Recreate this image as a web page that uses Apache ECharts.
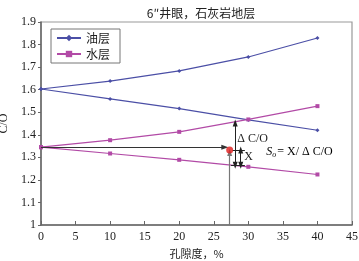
<!DOCTYPE html>
<html>
<head>
<meta charset="utf-8">
<script src="https://cdn.jsdelivr.net/npm/echarts@6/dist/echarts.min.js"></script>
<style>
  html, body { margin: 0; padding: 0; background: #fff; }
  #chart { width: 359px; height: 261px; }
</style>
</head>
<body>
<div id="chart"></div>
<script>
// data
var porosity = [0, 10, 20, 30, 40];
var oilUpper = [1.603, 1.638, 1.683, 1.745, 1.829];
var oilLower = [1.603, 1.559, 1.516, 1.466, 1.420];
var waterUpper = [1.345, 1.376, 1.413, 1.468, 1.527];
var waterLower = [1.345, 1.317, 1.289, 1.258, 1.224];
var measured = [27.3, 1.333];          // red point
var baseLevel = 1.345;                 // horizontal read-off line
var deltaArrow = [28.1, 1.265, 1.452]; // x, bottom, top
var xArrow = [28.9, 1.265, 1.333];

function pairs(xs, ys) {
    return xs.map(function (x, i) { return [x, ys[i]]; });
}

var serif = '"Liberation Serif", "Noto Sans CJK SC", serif';
var blue = '#4b4fa6';
var pink = '#b24aa6';

var myChart = echarts.init(document.getElementById('chart'));

function lineSeries(name, data, color, symbol, size) {
    return {
        name: name,
        type: 'line',
        data: data,
        symbol: symbol,
        symbolSize: size,
        lineStyle: { color: color, width: 1.2 },
        itemStyle: { color: color },
        animation: false
    };
}

var option = {
    animation: false,
    title: {
        text: '6″井眼，石灰岩地层',
        left: 196,
        textAlign: 'center',
        top: 2,
        textStyle: { fontFamily: '"Noto Sans CJK SC"', fontSize: 12, fontWeight: 'normal', color: '#222' }
    },
    legend: {
        data: ['油层', '水层'],
        orient: 'vertical',
        left: 51,
        top: 29,
        itemWidth: 24,
        itemHeight: 8,
        itemGap: 4,
        padding: [3, 10, 3, 5],
        borderColor: '#777',
        borderWidth: 1,
        textStyle: { fontFamily: '"Noto Sans CJK SC"', fontSize: 12, color: '#222' }
    },
    grid: {
        left: 41, right: 7, top: 22, bottom: 36,
        outerBoundsMode: 'none',
        containLabel: false,
        show: true,
        borderColor: '#999',
        borderWidth: 1.2
    },
    xAxis: {
        type: 'value',
        min: 0, max: 45, interval: 5,
        name: '孔隙度，%',
        nameLocation: 'middle',
        nameGap: 20,
        nameTextStyle: { fontFamily: '"Noto Sans CJK SC"', fontSize: 11, color: '#222' },
        axisLine: { lineStyle: { color: '#666', width: 1.5 } },
        axisTick: { inside: true, length: 4, lineStyle: { color: '#666' } },
        axisLabel: { fontFamily: serif, fontSize: 12, color: '#222', margin: 6 },
        splitLine: { show: false }
    },
    yAxis: {
        type: 'value',
        min: 1, max: 1.9, interval: 0.1,
        name: 'C/O',
        nameLocation: 'middle',
        nameGap: 30,
        nameTextStyle: { fontFamily: serif, fontSize: 12, color: '#222' },
        axisLine: { show: true, lineStyle: { color: '#666', width: 1.5 } },
        axisTick: { show: true, length: 3, lineStyle: { color: '#666' } },
        axisLabel: {
            fontFamily: serif, fontSize: 12, color: '#222', margin: 5,
            formatter: function (v) { return String(Math.round(v * 10) / 10); }
        },
        splitLine: { show: false }
    },
    series: [
        lineSeries('油层', pairs(porosity, oilUpper), blue, 'diamond', 4),
        lineSeries('油层', pairs(porosity, oilLower), blue, 'diamond', 4),
        lineSeries('水层', pairs(porosity, waterUpper), pink, 'rect', 4),
        lineSeries('水层', pairs(porosity, waterLower), pink, 'rect', 4),
        {
            name: 'annot',
            type: 'scatter',
            data: [measured],
            symbol: 'circle',
            symbolSize: 7,
            itemStyle: { color: '#e01b1b' },
            z: 5,
            markLine: {
                silent: true,
                animation: false,
                label: { show: false },
                symbolSize: [5, 7],
                data: [
                    [{ coord: [0, baseLevel], symbol: 'none', lineStyle: { color: '#333', width: 1.2, type: 'solid' } },
                     { coord: [measured[0] - 0.7, baseLevel], symbol: 'triangle' }],
                    [{ coord: [measured[0], 1.0], symbol: 'none', lineStyle: { color: '#777', width: 1.2, type: 'solid' } },
                     { coord: [measured[0], measured[1] - 0.012], symbol: 'triangle' }],
                    [{ coord: [deltaArrow[0], deltaArrow[1]], symbol: 'triangle', lineStyle: { color: '#222', width: 1, type: 'solid' } },
                     { coord: [deltaArrow[0], deltaArrow[2]], symbol: 'triangle' }],
                    [{ coord: [xArrow[0], xArrow[1]], symbol: 'triangle', lineStyle: { color: '#222', width: 1, type: 'solid' } },
                     { coord: [xArrow[0], xArrow[2]], symbol: 'triangle' }],
                    [{ coord: [deltaArrow[0] - 0.4, xArrow[2]], symbol: 'none', lineStyle: { color: '#222', width: 1, type: 'solid' } },
                     { coord: [xArrow[0] + 0.6, xArrow[2]], symbol: 'none' }],
                    [{ coord: [deltaArrow[0] - 0.6, xArrow[1]], symbol: 'none', lineStyle: { color: '#222', width: 1, type: 'solid' } },
                     { coord: [xArrow[0] + 0.6, xArrow[1]], symbol: 'none' }]
                ]
            }
        }
    ]
};

myChart.setOption(option);

// text annotations placed through the axes
var pDelta = myChart.convertToPixel({ gridIndex: 0 }, [28.4, 1.38]);
var pX = myChart.convertToPixel({ gridIndex: 0 }, [29.4, 1.303]);
var pS = myChart.convertToPixel({ gridIndex: 0 }, [32.6, 1.325]);
myChart.setOption({
    graphic: [
        { type: 'text', x: pDelta[0], y: pDelta[1], style: { text: 'Δ C/O', font: '12px ' + serif, fill: '#222', textVerticalAlign: 'middle' } },
        { type: 'text', x: pX[0], y: pX[1], style: { text: 'X', font: '12px ' + serif, fill: '#222', textVerticalAlign: 'middle' } },
        {
            type: 'text', x: pS[0], y: pS[1],
            style: {
                text: '{s|S}{o|o}{n|= X/ Δ C/O}',
                textVerticalAlign: 'middle',
                rich: {
                    s: { fontFamily: serif, fontStyle: 'italic', fontSize: 12, color: '#222' },
                    o: { fontFamily: serif, fontStyle: 'italic', fontSize: 8, color: '#222', padding: [6, 1, 0, 0] },
                    n: { fontFamily: serif, fontSize: 12, color: '#222' }
                }
            }
        }
    ]
});
</script>
</body>
</html>
